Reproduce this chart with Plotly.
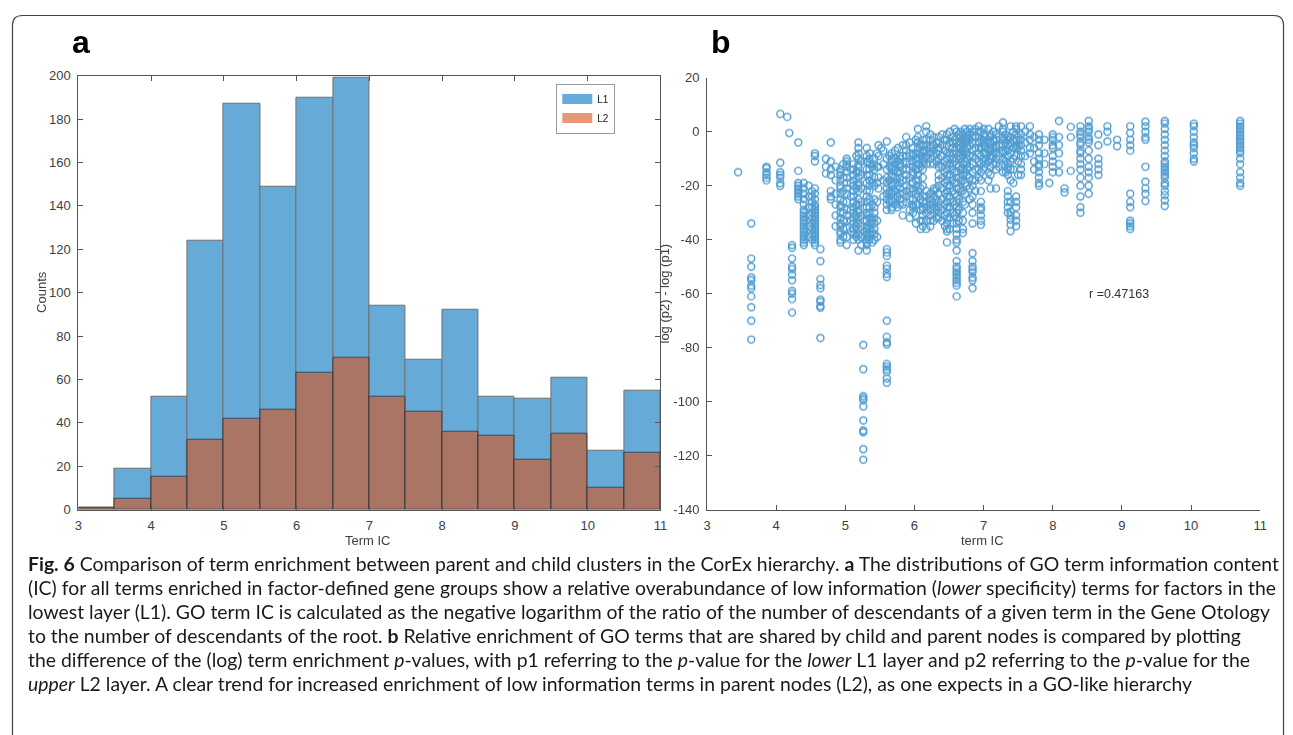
import plotly.graph_objects as go

PAGE_W, PAGE_H = 1293, 735
OFF = 8                      # default body margin of the html page
FW, FH = PAGE_W - OFF, PAGE_H - OFF

# ---------------- data: panel a (histogram) ----------------
bin_left = [3.0, 3.5, 4.0, 4.5, 5.0, 5.5, 6.0, 6.5, 7.0, 7.5, 8.0, 8.5, 9.0, 9.5, 10.0, 10.5]
bin_width = 0.5
l1_counts = [1, 19, 52, 124, 187, 149, 190, 199, 94, 69, 92, 52, 51, 61, 27, 55]
l2_counts = [1, 5, 15, 32, 42, 46, 63, 70, 52, 45, 36, 34, 23, 35, 10, 26]
hist_xticks = [3, 4, 5, 6, 7, 8, 9, 10, 11]
hist_yticks = [0, 20, 40, 60, 80, 100, 120, 140, 160, 180, 200]

# ---------------- data: panel b (scatter) ----------------
ic_levels = [3.45, 3.64, 3.86, 4.06, 4.16, 4.19, 4.23, 4.32, 4.40, 4.47, 4.52, 4.56, 4.64, 4.72,
             4.79, 4.86, 4.93, 4.97, 5.02, 5.08, 5.12, 5.16, 5.19, 5.23, 5.26, 5.31, 5.35, 5.39,
             5.42, 5.46, 5.48, 5.52, 5.55, 5.60, 5.64, 5.67, 5.72, 5.76, 5.79, 5.83, 5.88, 5.93,
             5.98, 6.02, 6.05, 6.09, 6.12, 6.17, 6.23, 6.28, 6.32, 6.35, 6.40, 6.44, 6.47, 6.51,
             6.55, 6.58, 6.61, 6.64, 6.67, 6.70, 6.73, 6.76, 6.80, 6.84, 6.88, 6.93, 6.96, 7.00,
             7.03, 7.07, 7.10, 7.14, 7.18, 7.22, 7.28, 7.32, 7.35, 7.39, 7.43, 7.47, 7.50, 7.54,
             7.60, 7.67, 7.73, 7.80, 7.88, 7.95, 8.00, 8.09, 8.17, 8.26, 8.40, 8.52, 8.66, 8.79,
             8.93, 9.12, 9.34, 9.62, 10.04, 10.71]
diff_by_level = [
    [-15],                                                                     # 3.45
    [-34, -47, -50, -54, -55, -57, -58, -61, -65, -70, -77],                   # 3.64
    [-13, -13.5, -15, -16, -17, -18],                                          # 3.86
    [6.6, -11.5, -15, -16, -17, -19, -20],                                     # 4.06
    [5.5],                                                                     # 4.16
    [-0.5],                                                                    # 4.19
    [-42, -43, -47, -50, -51, -53, -55, -59, -60, -62, -67],                   # 4.23
    [-4, -14.5, -19, -20, -21, -22, -23, -24, -25],                            # 4.32
    [-19, -21, -23, -25, -27, -29, -30, -31, -32, -33, -34, -35, -36, -37, -38, -39, -40, -41, -42],  # 4.40
    [-20, -24, -28, -31, -35, -39],                                            # 4.47
    [-22, -24, -26, -28, -30, -32, -34, -36, -38, -40],                        # 4.52
    [-8, -9, -11, -21, -23, -25, -27, -28, -29, -30, -31, -32, -33, -34, -35, -36, -37, -38, -39, -40, -41, -42],  # 4.56
    [-43.5, -48, -54.6, -56.8, -58, -62.2, -63, -64.6, -65.2, -76.4],          # 4.64
    [-10, -13, -15.5],                                                         # 4.72
    [-4, -11, -14, -16, -22, -24, -25],                                        # 4.79
    [-13, -18, -23, -27, -31, -35],                                            # 4.86
    [-14, -15, -16, -18, -20, -21, -23, -25, -27, -28, -30, -32, -34, -35, -37, -38, -40, -41],  # 4.93
    [-12, -17, -22, -26, -30, -33, -36, -39],                                  # 4.97
    [-10, -11, -12, -13, -15, -17, -19, -21, -23, -26, -29, -31, -33, -36, -39, -42],  # 5.02
    [-14, -19, -24, -29, -33, -37],                                            # 5.08
    [-12, -14, -16, -18, -20, -22, -24, -26, -28, -30, -32, -34, -36, -38, -40],  # 5.12
    [-9, -15, -21, -27, -31, -35, -39],                                        # 5.16
    [-4, -6, -8, -10, -12, -13, -15, -17, -19, -20, -22, -25, -27, -29, -30, -32, -34, -36, -38, -40, -44],  # 5.19
    [-11, -16, -21, -26, -31, -35, -39, -42],                                  # 5.23
    [-79, -88, -98, -98.8, -99.5, -101.8, -107, -110.7, -111.3, -117.6, -121.5],  # 5.26
    [-6, -9, -11, -14, -16, -19, -22, -24, -26, -28, -30, -31, -33, -35, -36, -37, -38, -39, -40, -41, -42, -44],  # 5.31
    [-8, -10, -12, -14, -16, -18, -20, -22, -25, -28, -30, -32, -34, -36, -38, -40],  # 5.35
    [-13, -19, -27, -33, -37, -41],                                            # 5.39
    [-10, -12, -14, -17, -20, -25, -28, -30, -32, -34, -36, -38, -40],         # 5.42
    [-8, -13, -19, -26, -33, -39],                                             # 5.46
    [-5, -9, -13, -17, -21],                                                   # 5.48
    [-6],                                                                      # 5.52
    [-7, -12, -18, -24],                                                       # 5.55
    [-3.6, -10, -14, -17, -19, -21, -23, -25, -27, -29, -43.5, -44.7, -46, -49.6, -50.8, -52.6, -53.8,
     -70, -76, -78, -78.8, -86, -87, -88, -89, -91.4, -93],                    # 5.60
    [-9, -13, -18, -22, -26],                                                  # 5.64
    [-8, -10, -11, -13, -14, -16, -17, -19, -20, -22, -23, -25, -26, -28, -29],  # 5.67
    [-7, -10, -12, -14, -17, -19, -22, -25, -27],                              # 5.72
    [-6, -11, -15, -20, -24, -28],                                             # 5.76
    [-9, -10, -12, -13, -15, -17, -19, -21, -23, -25, -27],                    # 5.79
    [-5, -9, -14, -18, -23, -27, -31],                                         # 5.83
    [-2, -5, -7, -9, -11, -12, -14, -16, -18, -20, -22, -24, -26],             # 5.88
    [-4, -8, -12, -17, -21, -25, -29, -32],                                    # 5.93
    [-6, -8, -9, -11, -13, -15, -16, -19, -21, -22, -25, -27, -28, -30],       # 5.98
    [-3, -10, -14, -18, -23, -27, -31, -34],                                   # 6.02
    [1, -2, -4, -6, -8, -10, -12, -14, -16, -18, -20, -22, -24, -27],          # 6.05
    [-5, -9, -13, -21, -25, -29, -33, -36],                                    # 6.09
    [-3, -5, -7, -8, -10, -11, -12, -14, -17, -20, -24, -26, -28, -29, -31, -33, -35],  # 6.12
    [2, 0, -3, -5, -7, -9, -10, -12, -22, -24, -26, -28, -30, -33, -36],       # 6.17
    [-1, -3, -5, -6, -8, -10, -12, -23, -25, -27, -29, -31, -33, -35],         # 6.23
    [-2, -5, -7, -9, -12, -21, -22, -24, -26, -28, -30, -33],                  # 6.28
    [-4, -8, -11, -21, -25, -29, -32],                                         # 6.32
    [-2, -4, -6, -7, -10, -12, -13, -16, -18, -20, -23, -26, -28, -30, -32],   # 6.35
    [-1, -5, -9, -13, -17, -21, -25, -29, -33],                                # 6.40
    [-3, -7, -11, -15, -19, -23, -27, -31, -35],                               # 6.44
    [-1, -3, -5, -8, -10, -12, -14, -16, -18, -20, -22, -24, -26, -28, -30, -32, -34, -36, -37, -41],  # 6.47
    [0, -4, -8, -12, -16, -20, -24, -28, -32, -36],                            # 6.51
    [-2, -4, -6, -8, -10, -12, -14, -18, -22, -26, -30, -34],                  # 6.55
    [1, -3, -7, -11, -15, -19, -23, -27, -31],                                 # 6.58
    [0, -2, -4, -6, -8, -10, -12, -15, -17, -19, -21, -24, -26, -28, -30, -32, -34, -36, -38, -40, -41,
     -44, -48, -50, -51, -52, -53, -54, -55, -56, -57, -61],                   # 6.61
    [-1, -5, -9, -13, -17, -21, -25, -29, -33],                                # 6.64
    [0, -2, -4, -6, -8, -10, -14, -18, -22],                                   # 6.67
    [-1, -3, -5, -7, -9, -12, -14, -16, -18, -22, -26, -30, -33, -36, -37.5],  # 6.70
    [1, -3, -7, -11, -15, -19, -23, -27],                                      # 6.73
    [0, -2, -4, -6, -8, -10, -12, -14, -16, -20],                              # 6.76
    [1, -1, -3, -5, -9, -13, -17, -21, -25],                                   # 6.80
    [0, -2, -4, -7, -9, -12, -15, -18, -20, -24, -27, -30, -34, -45, -48, -50, -51, -52, -54, -55, -58],  # 6.84
    [1, -2, -6, -10, -14, -18, -22],                                           # 6.88
    [2, 0, -2, -4, -6, -8, -11, -14, -17],                                     # 6.93
    [0, -3, -6, -9, -12, -15, -18, -22, -26, -28, -29, -31, -33, -34.5],       # 6.96
    [1, -1, -3, -5, -8, -11, -14],                                             # 7.00
    [-2, -4, -6, -8, -10, -12],                                                # 7.03
    [1, -3, -7, -11, -15, -18],                                                # 7.07
    [-1, -2, -4, -6, -7, -9, -10, -13, -16, -21],                              # 7.10
    [0, -3, -6, -9, -12],                                                      # 7.14
    [-1, -3, -5, -6, -8, -10, -12, -14, -21],                                  # 7.18
    [2, -2, -5, -9, -13],                                                      # 7.22
    [3.4, 1, 0, -2, -3, -5, -7, -8, -10, -12, -15],                            # 7.28
    [-1, -4, -7, -11, -15],                                                    # 7.32
    [-2, -3, -5, -7, -9, -12, -14, -16, -22, -24, -26, -28, -30],              # 7.35
    [2, -2, -4, -8, -11, -14, -18, -26, -29.6, -31, -32.6, -34.4, -36.9],      # 7.39
    [0, -3, -6, -10, -14, -19],                                                # 7.43
    [2, 1, -1, -3, -5, -6, -9, -24, -26, -28, -31, -33, -35],                  # 7.47
    [-2, -6, -11, -16],                                                        # 7.50
    [2, -1, -3, -5, -7, -9, -12, -14, -16],                                    # 7.54
    [0, -4, -9],                                                               # 7.60
    [2, -1, -3, -6, -8],                                                       # 7.67
    [-2, -6, -11, -14],                                                        # 7.73
    [-1, -3, -5, -8, -10, -12, -13, -15, -17, -19, -20],                       # 7.80
    [-3, -8, -12],                                                             # 7.88
    [-19],                                                                     # 7.95
    [-1, -2, -3, -5, -6, -9, -11, -13, -15],                                   # 8.00
    [4, -2, -5, -8, -12, -15],                                                 # 8.09
    [-21, -22.5],                                                              # 8.17
    [1.8, -2, -14.5],                                                          # 8.26
    [2, 0, -1, -2, -4, -5, -7, -8, -10, -12, -14, -17, -20, -24, -28, -30],    # 8.40
    [4, 2, 1, 0, -2, -3, -4, -7, -10, -13, -15, -17, -20, -23],                # 8.52
    [-1, -5, -10, -12, -14, -16],                                              # 8.66
    [2, 0, -3.6],                                                              # 8.79
    [-3, -5.4],                                                                # 8.93
    [2, -0.5, -3, -5, -7, -23, -26, -28, -33, -34, -35, -36],                  # 9.12
    [3.7, 2, 0, -2, -3, -13, -18.5, -21, -23, -25.7],                          # 9.34
    [4, 3, 1, -1, -3, -5, -7, -9, -11, -12, -13, -14, -15, -16, -17, -19, -20, -22, -23.5, -25.5, -27.5],  # 9.62
    [3, 2, 0, -2, -4, -5, -6, -8, -10, -11],                                   # 10.04
    [4, 3, 2, 1, 0, -1, -2, -3, -4, -5, -6, -7, -8, -10, -12, -15, -17, -19, -20],  # 10.71
]
sc_xticks = [3, 4, 5, 6, 7, 8, 9, 10, 11]
sc_yticks = [20, 0, -20, -40, -60, -80, -100, -120, -140]
r_text = "r =0.47163"

caption_lines = [
    "<b>Fig. 6</b> Comparison of term enrichment between parent and child clusters in the CorEx hierarchy. <b>a</b> The distributions of GO term information content",
    "(IC) for all terms enriched in factor-defined gene groups show a relative overabundance of low information (<i>lower</i> specificity) terms for factors in the",
    "lowest layer (L1). GO term IC is calculated as the negative logarithm of the ratio of the number of descendants of a given term in the Gene Otology",
    "to the number of descendants of the root. <b>b</b> Relative enrichment of GO terms that are shared by child and parent nodes is compared by plotting",
    "the difference of the (log) term enrichment <i>p</i>-values, with p1 referring to the <i>p</i>-value for the <i>lower</i> L1 layer and p2 referring to the <i>p</i>-value for the",
    "<i>upper</i> L2 layer. A clear trend for increased enrichment of low information terms in parent nodes (L2), as one expects in a GO-like hierarchy",
]

# ---------------- helpers (page pixel -> paper fraction) ----------------
def px(x):
    return (x - OFF) / FW

def py(y):
    return 1 - (y - OFF) / FH

def lbl(v):
    return str(v).replace("\u2212", "-")

sc_x = [ic for ic, vals in zip(ic_levels, diff_by_level) for _ in vals]
sc_y = [v for vals in diff_by_level for v in vals]

AXC = "#555555"
FONT = "Liberation Sans, Arial, sans-serif"
TICKF = dict(family=FONT, size=13, color="#404040")

fig = go.Figure()
fig.add_trace(go.Bar(x=bin_left, y=l1_counts, width=bin_width, offset=0, name="L1",
                     showlegend=False,
                     marker=dict(color="#0072BD", line=dict(color="#111111", width=1)),
                     opacity=0.6, xaxis="x", yaxis="y"))
fig.add_trace(go.Bar(x=bin_left, y=l2_counts, width=bin_width, offset=0, name="L2",
                     showlegend=False,
                     marker=dict(color="#D95319", line=dict(color="#111111", width=1)),
                     opacity=0.6, xaxis="x", yaxis="y"))
# legend entries (wide swatches like the original legend)
fig.add_trace(go.Scatter(x=[None], y=[None], mode="lines", name="L1",
                         line=dict(color="#66AAD7", width=10), xaxis="x", yaxis="y"))
fig.add_trace(go.Scatter(x=[None], y=[None], mode="lines", name="L2",
                         line=dict(color="#E89875", width=10), xaxis="x", yaxis="y"))
fig.add_trace(go.Scatter(x=sc_x, y=sc_y, mode="markers", showlegend=False,
                         marker=dict(symbol="circle-open", size=7, color="#0072BD",
                                     line=dict(width=1.4, color="#0072BD")),
                         opacity=0.7, xaxis="x2", yaxis="y2"))

common_axis = dict(showline=True, linecolor=AXC, linewidth=1, ticks="inside", ticklen=5,
                   tickcolor=AXC, showgrid=False, zeroline=False, tickfont=TICKF,
                   ticklabelstandoff=4)

fig.update_layout(
    width=FW, height=FH, margin=dict(l=0, r=0, t=0, b=0),
    paper_bgcolor="white", plot_bgcolor="white",
    barmode="overlay", bargap=0,
    font=dict(family=FONT, color="#404040"),
    xaxis=dict(domain=[px(75), px(662)], range=[3, 11], tickmode="array",
               tickvals=hist_xticks, ticktext=[lbl(v) for v in hist_xticks],
               mirror="ticks", anchor="y", **common_axis),
    yaxis=dict(domain=[py(513), py(70)], range=[0, 200], tickmode="array",
               tickvals=hist_yticks, ticktext=[lbl(v) for v in hist_yticks],
               mirror="ticks", anchor="x", **common_axis),
    xaxis2=dict(domain=[px(709), px(1267)], range=[3, 11], tickmode="array",
                tickvals=sc_xticks, ticktext=[lbl(v) for v in sc_xticks],
                mirror=False, anchor="y2", **common_axis),
    yaxis2=dict(domain=[py(513), py(72)], range=[-140, 20], tickmode="array",
                tickvals=sc_yticks, ticktext=[lbl(v) for v in sc_yticks],
                mirror=False, anchor="x2", **common_axis),
    legend=dict(x=px(557), y=py(78), xanchor="left", yanchor="top",
                bordercolor="#9a9a9a", borderwidth=1, bgcolor="white",
                font=dict(family=FONT, size=10, color="#222222"),
                tracegroupgap=0, itemwidth=30),
)

def txt(text, x, y, size, color="#404040", angle=0, xanchor="center", yanchor="middle", family=FONT):
    return dict(text=text, x=x, y=y, xref="paper", yref="paper", textangle=angle,
                xanchor=xanchor, yanchor=yanchor, showarrow=False,
                font=dict(family=family, size=size, color=color))

ann = [
    txt("<b>a</b>", px(78), py(36), 32, color="black"),
    txt("<b>b</b>", px(723), py(36), 32, color="black"),
    txt("Counts", px(37), py(291), 13, angle=-90),
    txt("Term IC", px(367), py(545), 13),
    txt("log (p2) - log (p1)", px(666), py(292), 13, angle=-90),
    txt("term IC", px(987), py(545), 13),
    dict(text=r_text, x=8.49, y=-60.2, xref="x2", yref="y2", xanchor="left", yanchor="middle",
         showarrow=False, font=dict(family=FONT, size=12.5, color="#333333")),
]
cap_y = [568, 592.5, 617, 641.5, 666, 690.5]
for line, yy in zip(caption_lines, cap_y):
    ann.append(txt(line, px(22), py(yy), 19.4, color="#1a1a1a", xanchor="left", family="Lato"))
fig.update_layout(annotations=ann)

# rounded frame around the whole figure
L, T, R, B, rad = px(8.5), py(8.5), px(1290.5), py(760), 10
rx, ry = rad / FW, rad / FH
path = (f"M {L},{B} L {L},{T - ry} Q {L},{T} {L + rx},{T} "
        f"L {R - rx},{T} Q {R},{T} {R},{T - ry} L {R},{B}")
fig.add_shape(type="path", path=path, xref="paper", yref="paper",
              line=dict(color="#444444", width=1.2))

fig.write_html("out.html")
